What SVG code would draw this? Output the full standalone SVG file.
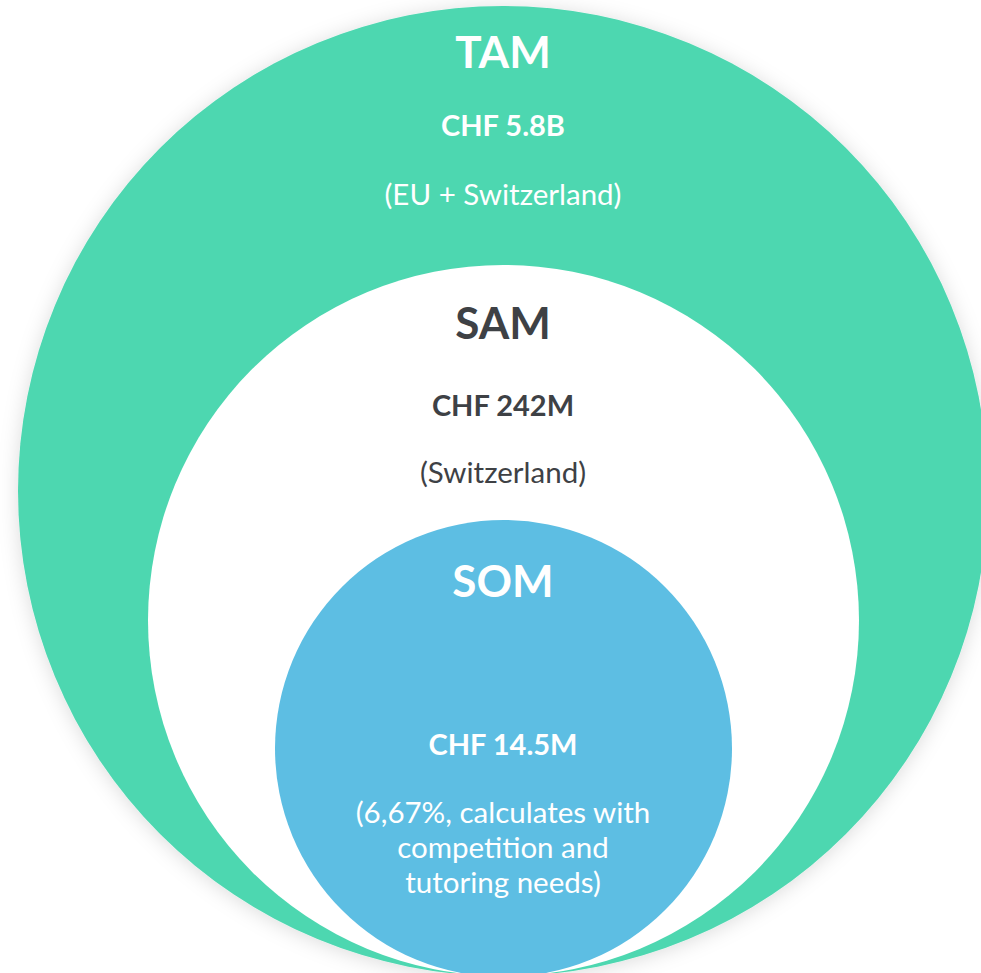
<svg xmlns="http://www.w3.org/2000/svg" width="981" height="973" viewBox="0 0 981 973">
  <style>
    text { font-family: Lato, "Open Sans", "Liberation Sans", sans-serif; text-anchor: middle; }
    .title { font-size: 44px; font-weight: 700; }
    .value { font-size: 29px; font-weight: 700; }
    .note { font-size: 29.5px; font-weight: 400; }
    .light { fill: #ffffff; }
    .dark { fill: #3e4145; }
  </style>
  <defs>
    <filter id="softShadow" x="-10%" y="-10%" width="120%" height="120%">
      <feDropShadow dx="0" dy="2" stdDeviation="10" flood-color="#000000" flood-opacity="0.14"/>
    </filter>
  </defs>
  <rect width="981" height="973" fill="#ffffff"/>

  <!-- Total addressable market -->
  <g id="tam">
    <circle cx="503" cy="491" r="485" fill="#4ed7b0" filter="url(#softShadow)"/>
    <text class="title light" x="503" y="68">TAM</text>
    <text class="value light" x="503" y="136">CHF 5.8B</text>
    <text class="note light" x="503" y="205">(EU + Switzerland)</text>
  </g>

  <!-- Serviceable addressable market -->
  <g id="sam">
    <circle cx="503.5" cy="620.5" r="355.5" fill="#ffffff"/>
    <text class="title dark" x="503" y="339">SAM</text>
    <text class="value dark" x="503" y="416">CHF 242M</text>
    <text class="note dark" x="503" y="483">(Switzerland)</text>
  </g>

  <!-- Serviceable obtainable market -->
  <g id="som">
    <circle cx="503.5" cy="748.5" r="228.5" fill="#5dbee3"/>
    <text class="title light" x="503" y="597">SOM</text>
    <text class="value light" x="503" y="755">CHF 14.5M</text>
    <text class="note light" x="503" y="823">(6,67%, calculates with</text>
    <text class="note light" x="503" y="858">competition and</text>
    <text class="note light" x="503" y="893">tutoring needs)</text>
  </g>

  <g id="connectors"/>
</svg>
